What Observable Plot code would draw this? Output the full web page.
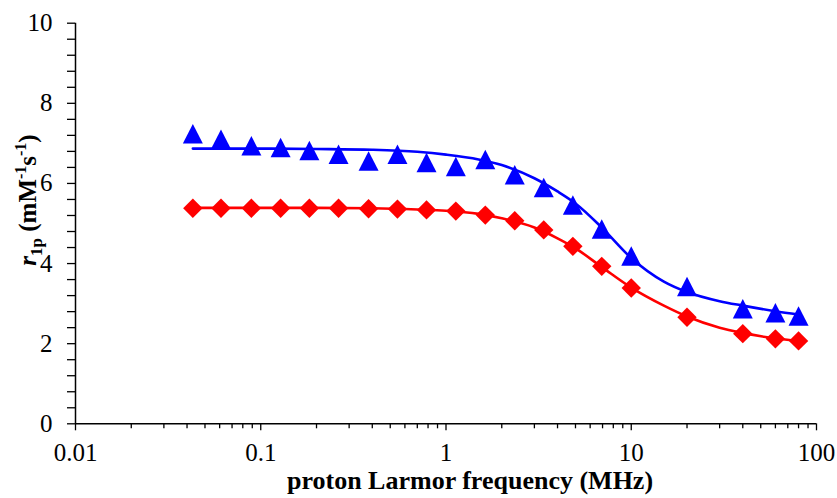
<!DOCTYPE html>
<html>
<head>
<meta charset="utf-8">
<script src="https://cdn.jsdelivr.net/npm/d3@7"></script>
<script src="https://cdn.jsdelivr.net/npm/@observablehq/plot@0.6"></script>
<style>
  html, body { margin: 0; padding: 0; background: #fff; }
  #chart { width: 837px; height: 498px; }
  #chart svg, #chart svg text { font-family: "Liberation Serif", "Times New Roman", serif; }
</style>
</head>
<body>
<div id="chart"></div>
<script>
// Measured relaxivity (proton Larmor frequency in MHz)
const freq = [0.043, 0.061, 0.089, 0.128, 0.183, 0.263, 0.382, 0.547, 0.785, 1.13, 1.63, 2.35, 3.37, 4.84, 6.93, 10, 20, 40, 60, 80];
const blueValues = [7.24, 7.10, 6.94, 6.90, 6.82, 6.73, 6.56, 6.73, 6.52, 6.42, 6.60, 6.22, 5.90, 5.46, 4.86, 4.19, 3.43, 2.87, 2.77, 2.69];
const redValues = [5.38, 5.38, 5.38, 5.38, 5.38, 5.38, 5.37, 5.36, 5.34, 5.31, 5.21, 5.07, 4.84, 4.43, 3.93, 3.39, 2.66, 2.25, 2.12, 2.07];

// Fitted curves
const fitFreq = [0.043, 0.1, 0.2, 0.4, 0.7, 1, 1.5, 2, 3, 4, 5, 7, 10, 15, 20, 30, 40, 60, 80];
const blueFit = [6.87, 6.87, 6.86, 6.84, 6.79, 6.72, 6.60, 6.46, 6.13, 5.80, 5.50, 4.88, 4.14, 3.55, 3.29, 3.06, 2.95, 2.81, 2.73];
const redFit = [5.39, 5.39, 5.39, 5.38, 5.35, 5.32, 5.24, 5.13, 4.90, 4.63, 4.38, 3.90, 3.40, 2.95, 2.68, 2.40, 2.27, 2.13, 2.07];

// Axis ticks
const xMajorTicks = [0.01, 0.1, 1, 10, 100];
const xMinorTicks = [0.02, 0.03, 0.04, 0.05, 0.06, 0.07, 0.08, 0.09,
  0.2, 0.3, 0.4, 0.5, 0.6, 0.7, 0.8, 0.9,
  2, 3, 4, 5, 6, 7, 8, 9,
  20, 30, 40, 50, 60, 70, 80, 90];
const yMajorTicks = [0, 2, 4, 6, 8, 10];
const yMinorTicks = [0.4, 0.8, 1.2, 1.6, 2.4, 2.8, 3.2, 3.6, 4.4, 4.8, 5.2, 5.6, 6.4, 6.8, 7.2, 7.6, 8.4, 8.8, 9.2, 9.6];
const xTitle = "proton Larmor frequency (MHz)";

const blueData = freq.map((f, i) => ({f, v: blueValues[i]}));
const redData = freq.map((f, i) => ({f, v: redValues[i]}));
const blueFitData = fitFreq.map((f, i) => ({f, v: blueFit[i]}));
const redFitData = fitFreq.map((f, i) => ({f, v: redFit[i]}));

// Excel-like marker shapes, centred on their bounding box
const triangleSymbol = {
  draw(ctx, size) {
    const r = Math.sqrt(size / Math.PI);
    ctx.moveTo(0, -0.975 * r);
    ctx.lineTo(r, 0.975 * r);
    ctx.lineTo(-r, 0.975 * r);
    ctx.closePath();
  }
};
const diamondSymbol = {
  draw(ctx, size) {
    const r = Math.sqrt(size / Math.PI);
    ctx.moveTo(0, -r);
    ctx.lineTo(r, 0);
    ctx.lineTo(0, r);
    ctx.lineTo(-r, 0);
    ctx.closePath();
  }
};

const FONT = "Liberation Serif, Times New Roman, serif";

const chart = Plot.plot({
  width: 837,
  height: 498,
  marginLeft: 75,
  marginRight: 21,
  marginTop: 22.7,
  marginBottom: 74.7,
  style: {fontFamily: FONT, color: "black", background: "white", overflow: "visible"},
  x: {type: "log", domain: [0.01, 100]},
  y: {domain: [0, 10]},
  marks: [
    Plot.axisY(yMinorTicks, {tickSize: 8, text: null, label: null, strokeWidth: 1.3}),
    Plot.axisY(yMajorTicks, {tickSize: 8, tickPadding: 15, fontSize: 25, fontFamily: FONT, strokeWidth: 1.3, label: null, tickFormat: d => String(d)}),
    Plot.axisX(xMinorTicks, {tickSize: 5, text: null, label: null, strokeWidth: 1.3}),
    Plot.axisX(xMajorTicks, {tickSize: 7, tickPadding: 12, fontSize: 25, fontFamily: FONT, strokeWidth: 1.3, label: null, tickFormat: d => String(d)}),
    Plot.ruleX([0.01], {y1: 0, y2: 10, stroke: "black", strokeWidth: 1.5}),
    Plot.ruleY([0], {x1: 0.01, x2: 100, stroke: "black", strokeWidth: 1.5}),
    Plot.line(redFitData, {x: "f", y: "v", stroke: "#ff0000", strokeWidth: 2.6, curve: "monotone-x"}),
    Plot.line(blueFitData, {x: "f", y: "v", stroke: "#0000ff", strokeWidth: 2.6, curve: "monotone-x"}),
    Plot.dot(redData, {x: "f", y: "v", symbol: diamondSymbol, r: 9.7, fill: "#ff0000", stroke: "none"}),
    Plot.dot(blueData, {x: "f", y: "v", symbol: triangleSymbol, r: 10, fill: "#0000ff", stroke: "none"}),
    Plot.text([xTitle], {text: d => d, frameAnchor: "bottom", dy: 57, dx: 24, fontSize: 26, fontFamily: FONT, fontWeight: "bold", fill: "black", lineAnchor: "middle", textAnchor: "middle"})
  ]
});

// Y axis title with italic r, subscript and superscripts
const svg = d3.select(chart);
const yt = svg.append("text")
  .attr("transform", "translate(36,200) rotate(-90)")
  .attr("text-anchor", "middle")
  .attr("font-family", FONT)
  .attr("font-weight", "bold")
  .attr("font-size", 25)
  .attr("fill", "black");
yt.append("tspan").attr("font-style", "italic").text("r");
yt.append("tspan").attr("font-size", 17).attr("dy", 6).text("1p");
yt.append("tspan").attr("dy", -6).text(" (mM");
yt.append("tspan").attr("font-size", 16).attr("dy", -10).text("-1");
yt.append("tspan").attr("dy", 10).text("s");
yt.append("tspan").attr("font-size", 16).attr("dy", -10).text("-1");
yt.append("tspan").attr("dy", 10).text(")");

document.getElementById("chart").appendChild(chart);
</script>
</body>
</html>
